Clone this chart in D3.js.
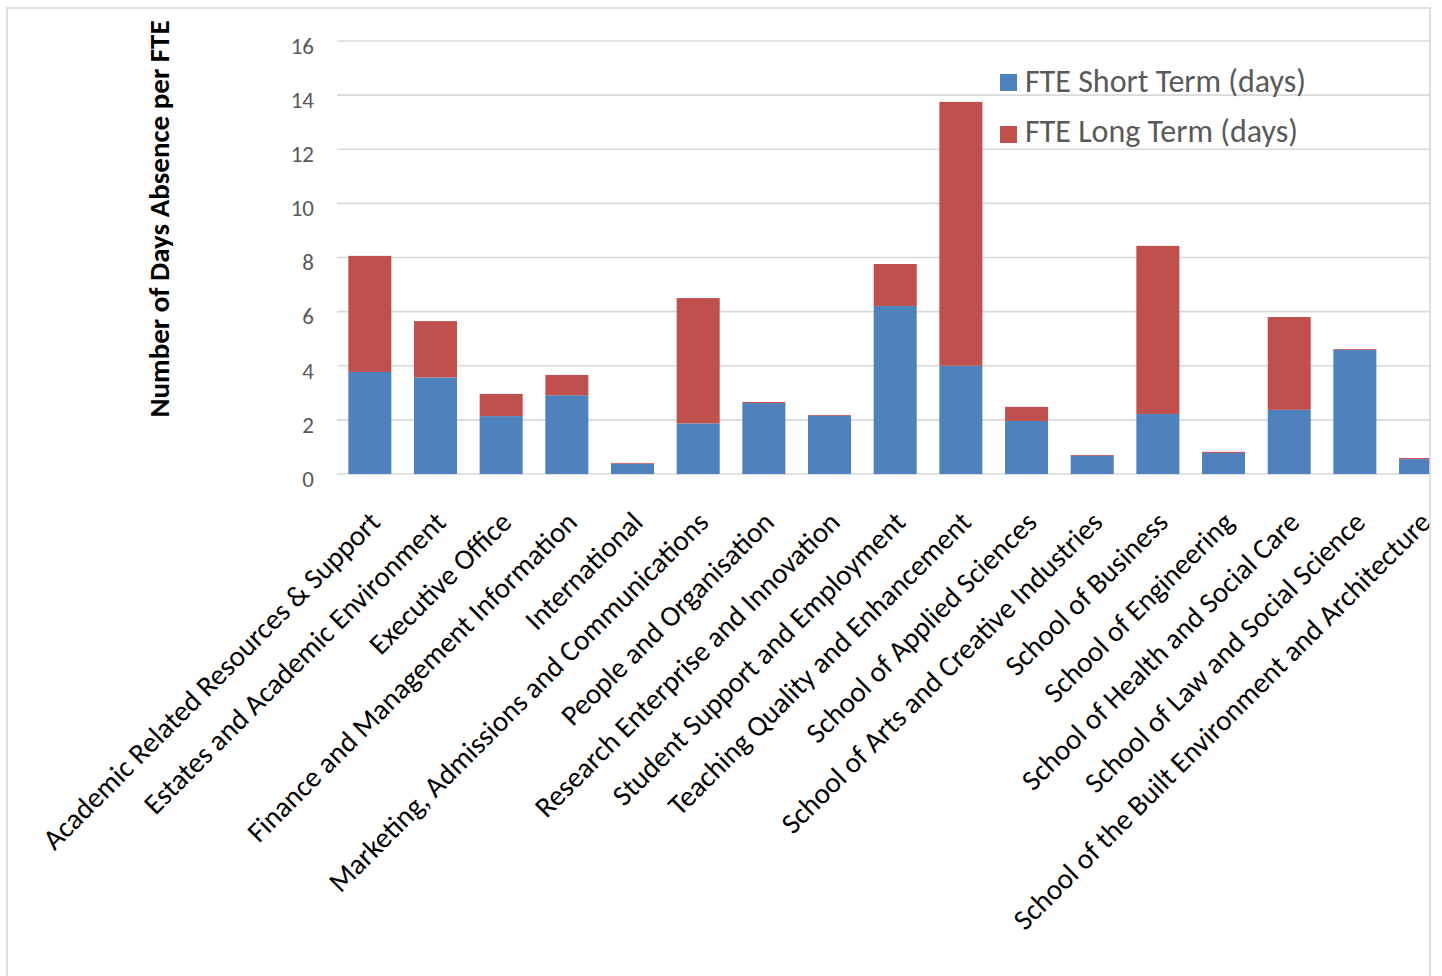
<!DOCTYPE html>
<html>
<head>
<meta charset="utf-8">
<script src="https://cdn.jsdelivr.net/npm/d3@7"></script>
<style>
  html, body { margin: 0; padding: 0; background: #fff; }
  svg { display: block; }
</style>
</head>
<body>
<svg id="chart" width="1442" height="976"></svg>
<script>
// Absence days per FTE by department
const departments = [
  "Academic Related Resources & Support",
  "Estates and Academic Environment",
  "Executive Office",
  "Finance and Management Information",
  "International",
  "Marketing, Admissions and Communications",
  "People and Organisation",
  "Research Enterprise and Innovation",
  "Student Support and Employment",
  "Teaching Quality and Enhancement",
  "School of Applied Sciences",
  "School of Arts and Creative Industries",
  "School of Business",
  "School of Engineering",
  "School of Health and Social Care",
  "School of Law and Social Science",
  "School of the Built Environment and Architecture"
];
const shortTerm = [3.77, 3.57, 2.14, 2.91, 0.38, 1.87, 2.62, 2.15, 6.21, 4.00, 1.96, 0.67, 2.22, 0.78, 2.37, 4.59, 0.55];
const longTerm  = [4.29, 2.08, 0.82, 0.75, 0.03, 4.63, 0.04, 0.03, 1.55, 9.75, 0.52, 0.03, 6.21, 0.04, 3.43, 0.03, 0.04];
const yTicks = [0, 2, 4, 6, 8, 10, 12, 14, 16];
const seriesNames = ["FTE Short Term (days)", "FTE Long Term (days)"];
const seriesColors = ["#4f81bd", "#c0504d"];

const FONT = "Carlito, Calibri, Lato, sans-serif";

const svg = d3.select("#chart");

// chart frame; everything is clipped to it
const frame = { x: 7, y: 8, w: 1423, h: 1000 };
svg.append("defs").append("clipPath").attr("id", "frameClip")
  .append("rect").attr("x", frame.x).attr("y", frame.y).attr("width", frame.w).attr("height", frame.h);
const root = svg.append("g").attr("clip-path", "url(#frameClip)");

const plotLeft = 337, bandStep = 65.67;
const x = d3.scaleBand()
  .domain(departments)
  .range([plotLeft, plotLeft + bandStep * departments.length])
  .paddingInner(0.345)
  .paddingOuter(0.1725);
const y = d3.scaleLinear().domain([0, 16]).range([474, 41]);

// horizontal gridlines
const gridRight = plotLeft + bandStep * departments.length;
root.append("g").selectAll("line").data(yTicks).join("line")
  .attr("x1", plotLeft).attr("x2", gridRight)
  .attr("y1", d => y(d)).attr("y2", d => y(d))
  .attr("stroke", "#d9d9d9").attr("stroke-width", 1.6);

// y tick labels
const yAxis = d3.axisLeft(y).tickValues(yTicks).tickSize(0).tickPadding(0);
const yg = root.append("g").attr("transform", "translate(314,4)").call(yAxis);
yg.select(".domain").remove();
yg.selectAll("text")
  .attr("font-family", FONT).attr("font-size", 23).attr("fill", "#595959")
  .attr("dy", "0.36em");

// stacked bars
const rows = departments.map((d, i) => ({ dept: d, short: shortTerm[i], long: longTerm[i] }));
const stack = d3.stack().keys(["short", "long"])(rows);
root.append("g").selectAll("g").data(stack).join("g")
  .attr("fill", (s, i) => seriesColors[i])
  .selectAll("rect").data(s => s).join("rect")
  .attr("x", d => x(d.data.dept))
  .attr("width", x.bandwidth())
  .attr("y", d => y(d[1]))
  .attr("height", d => y(d[0]) - y(d[1]));

// category labels, rotated 45 degrees
const xAxis = d3.axisBottom(x).tickSize(0).tickPadding(0);
const xg = root.append("g").attr("transform", "translate(0,474)").call(xAxis);
xg.select(".domain").remove();
xg.selectAll("text")
  .attr("font-family", FONT).attr("font-size", 29).attr("fill", "#000")
  .attr("text-anchor", "end")
  .attr("dy", null).attr("y", null)
  .attr("transform", "translate(12,50) rotate(-45)");

// y axis title
root.append("text")
  .attr("transform", "translate(169,219) rotate(-90)")
  .attr("text-anchor", "middle")
  .attr("font-family", FONT).attr("font-size", 29).attr("font-weight", "bold")
  .attr("fill", "#000")
  .text("Number of Days Absence per FTE");

// legend
const legend = root.append("g").selectAll("g").data(seriesNames).join("g")
  .attr("transform", (d, i) => `translate(1000,${74 + i * 52})`);
legend.append("rect").attr("width", 17).attr("height", 17)
  .attr("fill", (d, i) => seriesColors[i]);
legend.append("text")
  .attr("x", 25).attr("y", (d, i) => 18 - i * 2)
  .attr("font-family", FONT).attr("font-size", 32).attr("fill", "#595959")
  .text(d => d);

// frame border
svg.append("rect")
  .attr("x", frame.x).attr("y", frame.y).attr("width", frame.w).attr("height", frame.h)
  .attr("fill", "none").attr("stroke", "#d9d9d9").attr("stroke-width", 1.6);
</script>
</body>
</html>
